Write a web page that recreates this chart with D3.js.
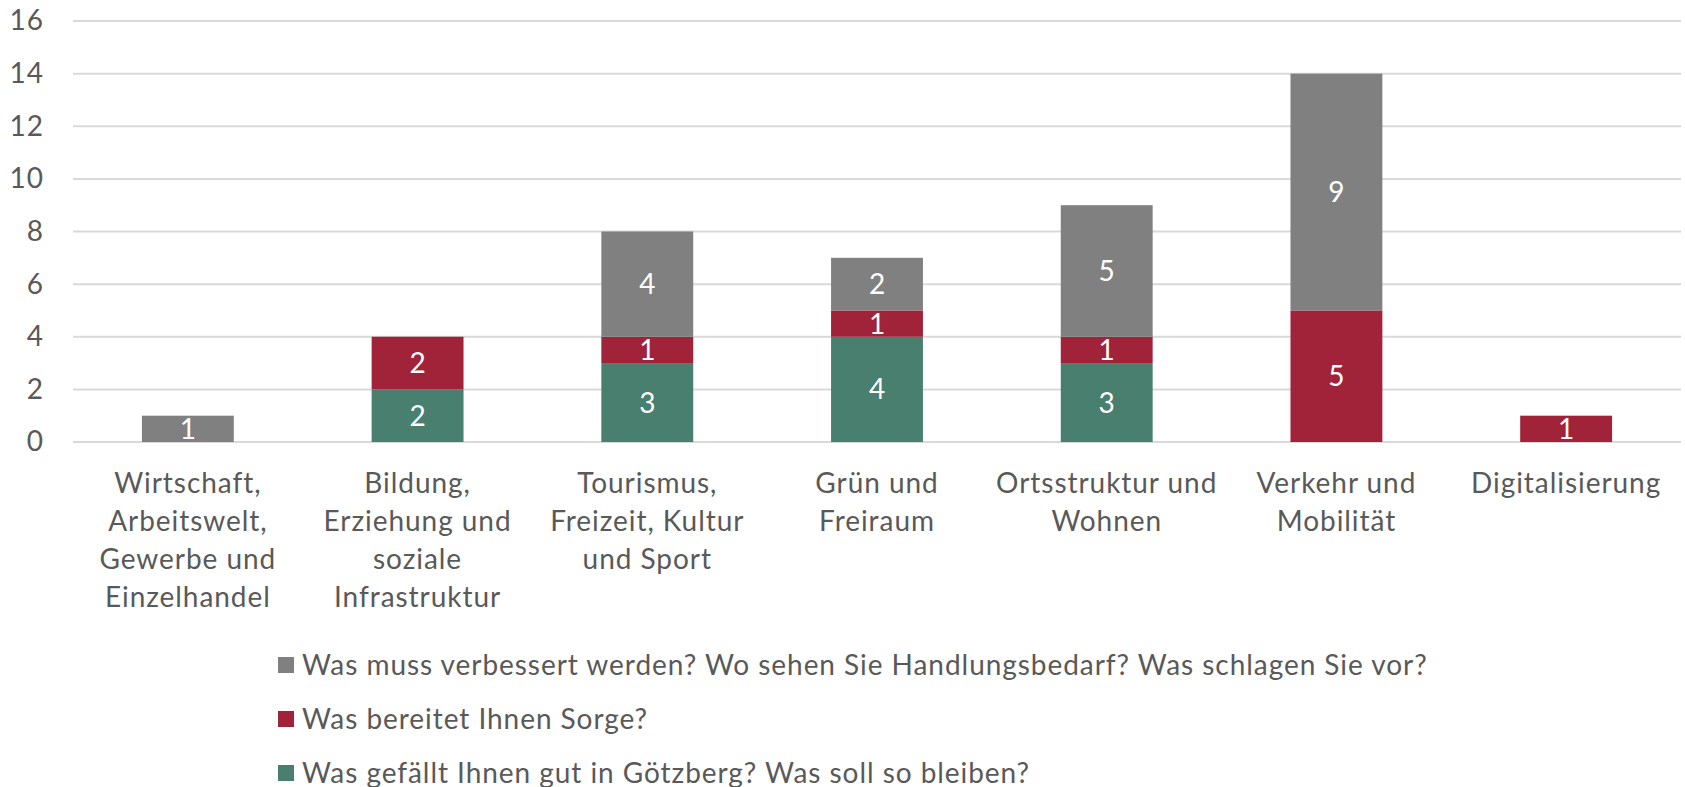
<!DOCTYPE html>
<html><head><meta charset="utf-8">
<script src="https://cdn.jsdelivr.net/npm/d3@7"></script>
<style>body{margin:0;background:#fff}svg{display:block}text{font-family:Lato,"Noto Sans",sans-serif}</style>
</head><body><svg id="c" width="1685" height="787"></svg>
<script>
const categories = ["Wirtschaft,\nArbeitswelt,\nGewerbe und\nEinzelhandel","Bildung,\nErziehung und\nsoziale\nInfrastruktur","Tourismus,\nFreizeit, Kultur\nund Sport","Grün und\nFreiraum","Ortsstruktur und\nWohnen","Verkehr und\nMobilität","Digitalisierung"];
const seriesNames = ["Was gefällt Ihnen gut in Götzberg? Was soll so bleiben?","Was bereitet Ihnen Sorge?","Was muss verbessert werden? Wo sehen Sie Handlungsbedarf? Was schlagen Sie vor?"];
const gefaellt = [0,2,3,4,3,0,0];
const sorge = [0,2,1,1,1,5,1];
const verbessern = [1,0,4,2,5,9,0];
const yTicks = [0,2,4,6,8,10,12,14,16];
const colors = ["#487F6E","#A0233A","#808080"];

const svg = d3.select("#c");
const x = d3.scaleBand().domain(categories).range([73,1681]).paddingInner(0.6).paddingOuter(0.3);
const y = d3.scaleLinear().domain([0,16]).range([442,21]);
const fs = 28, ls = "0.95px";

// grid
svg.append("g").selectAll("line").data(yTicks).join("line")
  .attr("x1",73).attr("x2",1681).attr("y1",d=>y(d)).attr("y2",d=>y(d))
  .attr("stroke","#d9d9d9").attr("stroke-width",2);
// y labels
const yAxis = d3.axisLeft(y).tickValues(yTicks).tickSize(0).tickPadding(0);
const ga = svg.append("g").attr("transform","translate(44,0)").call(yAxis);
ga.select(".domain").remove();
ga.selectAll("text").attr("font-size",fs).attr("letter-spacing",ls).attr("fill","#595959").attr("font-family","Lato,'Noto Sans',sans-serif");

const rows = categories.map((c,i)=>({cat:c, v:[gefaellt[i],sorge[i],verbessern[i]]}));
const stack = d3.stack().keys([0,1,2]).value((d,k)=>d.v[k])(rows);
const g = svg.append("g");
stack.forEach((layer,k)=>{
  layer.forEach(seg=>{
    const val = seg[1]-seg[0];
    if(val<=0) return;
    g.append("rect").attr("x",x(seg.data.cat)).attr("width",x.bandwidth())
      .attr("y",y(seg[1])).attr("height",y(seg[0])-y(seg[1])).attr("fill",colors[k]);
    g.append("text").attr("x",x(seg.data.cat)+x.bandwidth()/2).attr("y",(y(seg[0])+y(seg[1]))/2)
      .attr("dy","0.36em").attr("text-anchor","middle").attr("fill","#fff").attr("font-size",fs).text(val);
  });
});

// x labels
categories.forEach(c=>{
  const t = svg.append("text").attr("text-anchor","middle").attr("font-size",fs).attr("letter-spacing",ls).attr("fill","#595959");
  c.split("\n").forEach((ln,j)=>{
    t.append("tspan").attr("x",x(c)+x.bandwidth()/2).attr("y",493+j*38).text(ln);
  });
});

// legend
const legOrder = [2,1,0];
const lg = svg.append("g");
legOrder.forEach((k,j)=>{
  const cy = 665 + j*54;
  lg.append("rect").attr("x",278).attr("y",cy-8).attr("width",16).attr("height",16).attr("fill",colors[k]);
  lg.append("text").attr("x",302).attr("y",cy).attr("dy","0.36em").attr("font-size",fs).attr("letter-spacing",ls).attr("fill","#595959").text(seriesNames[k]);
});
</script></body></html>
